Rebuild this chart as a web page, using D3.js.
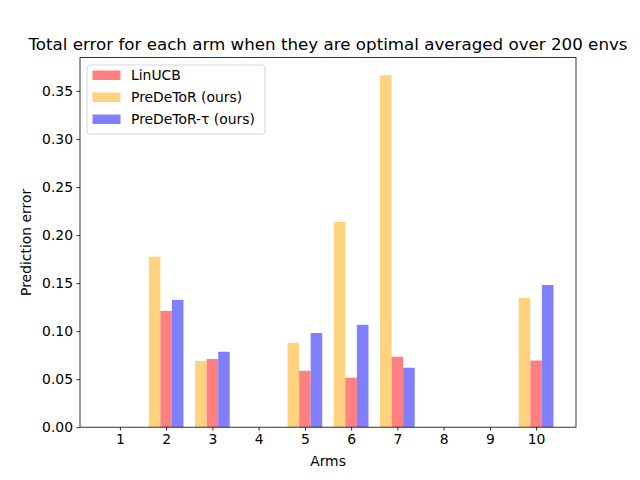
<!DOCTYPE html>
<html><head><meta charset="utf-8">
<script src="https://cdn.jsdelivr.net/npm/d3@7"></script>
<style>body{margin:0;background:#fff}svg{font-family:"DejaVu Sans",sans-serif}</style>
</head><body>
<svg id="c" width="640" height="480"></svg>
<script>
const arms = [1,2,3,4,5,6,7,8,9,10];
const linucb   = [0, 0.121, 0.071, 0, 0.0587, 0.0515, 0.0733, 0, 0, 0.0694];
const predetor = [0, 0.1775, 0.069, 0, 0.0878, 0.2136, 0.3664, 0, 0, 0.1346];
const predetorTau = [0, 0.1325, 0.0785, 0, 0.098, 0.1066, 0.0619, 0, 0, 0.148];
const yTicks = [0,0.05,0.10,0.15,0.20,0.25,0.30,0.35];
const seriesNames = ["LinUCB","PreDeToR (ours)","PreDeToR-τ (ours)"];
const colors = ["#ff8080","#ffd280","#8080ff"];

const svg = d3.select("#c");
const L=80,R=576,T=57.6,B=427.2;
const bw=0.25;
const x = d3.scaleLinear().domain([0.1375,10.8625]).range([L,R]);
const y = d3.scaleLinear().domain([0,0.3847]).range([B,T]);

const series = [
  {name:seriesNames[0], vals:linucb, off:0, color:colors[0]},
  {name:seriesNames[1], vals:predetor, off:-bw, color:colors[1]},
  {name:seriesNames[2], vals:predetorTau, off:bw, color:colors[2]}
];
const drawOrder=[series[1],series[0],series[2]];
drawOrder.forEach(s=>{
  svg.append("g").selectAll("rect").data(arms.map((a,i)=>({a,v:s.vals[i]}))).join("rect")
    .attr("x",d=>x(d.a+s.off-bw/2)).attr("width",x(bw)-x(0))
    .attr("y",d=>y(d.v)).attr("height",d=>y(0)-y(d.v))
    .attr("fill",s.color);
});

// axes
const xa = svg.append("g").attr("transform",`translate(0,${B})`)
  .call(d3.axisBottom(x).tickValues(arms).tickSize(3.5).tickPadding(3.5).tickFormat(d3.format("d")));
const ya = svg.append("g").attr("transform",`translate(${L},0)`)
  .call(d3.axisLeft(y).tickValues(yTicks).tickSize(3.5).tickPadding(3.5).tickFormat(d3.format(".2f")));
[xa,ya].forEach(g=>{g.select(".domain").remove();g.selectAll("text").attr("font-size",13.9).attr("fill","#000").attr("font-family","DejaVu Sans");g.selectAll("line").attr("stroke","#000").attr("stroke-width",0.8);});

svg.append("rect").attr("x",L).attr("y",T).attr("width",R-L).attr("height",B-T)
  .attr("fill","none").attr("stroke","#000").attr("stroke-width",0.8);

svg.append("text").attr("x",(L+R)/2).attr("y",50).attr("text-anchor","middle")
  .attr("font-size",16.7).text("Total error for each arm when they are optimal averaged over 200 envs");
svg.append("text").attr("x",(L+R)/2).attr("y",466).attr("text-anchor","middle")
  .attr("font-size",13.9).text("Arms");
svg.append("text").attr("transform",`translate(31,${(T+B)/2}) rotate(-90)`).attr("text-anchor","middle")
  .attr("font-size",13.9).text("Prediction error");

// legend
const lg = svg.append("g").attr("transform","translate(87,65)");
lg.append("rect").attr("x",0).attr("y",0).attr("width",178).attr("height",69).attr("rx",3)
  .attr("fill","#fff").attr("fill-opacity",0.8).attr("stroke","#ccc").attr("stroke-width",0.8);
series.forEach((s,i)=>{
  lg.append("rect").attr("x",5.5).attr("y",5.5+i*22).attr("width",28).attr("height",9.5).attr("fill",s.color);
  lg.append("text").attr("x",44).attr("y",15+i*22).attr("font-size",13.9).text(s.name);
});
</script>
</body></html>
